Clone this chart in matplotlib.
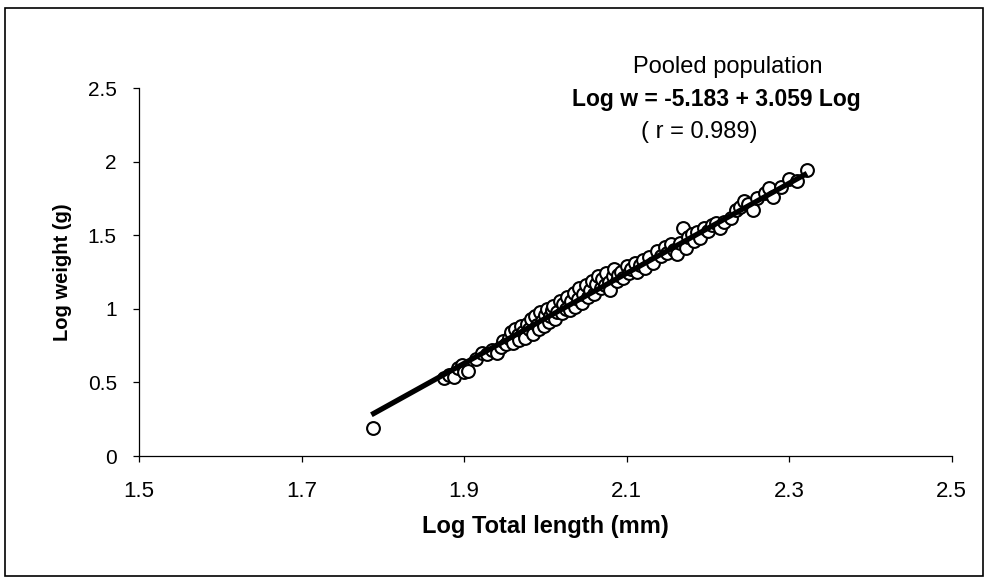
import numpy as np
import matplotlib
matplotlib.use("Agg")
import matplotlib.pyplot as plt
from matplotlib.patches import Rectangle

plt.rcParams["font.family"] = ["Liberation Sans", "DejaVu Sans"]

# Log total length (mm) of each fish.
log_length = [
    1.788,
    1.875, 1.882, 1.888, 1.893, 1.897, 1.900, 1.905,
    1.915, 1.922, 1.928, 1.935, 1.940, 1.945, 1.948, 1.952,
    1.955, 1.958, 1.960, 1.963, 1.966, 1.968, 1.970, 1.972, 1.975, 1.977,
    1.980, 1.982, 1.985, 1.987, 1.990, 1.992, 1.994, 1.996, 1.998, 2.000,
    2.002, 2.004, 2.006,
    2.008, 2.010, 2.012, 2.015, 2.018, 2.020, 2.022, 2.025, 2.027, 2.030,
    2.032, 2.035, 2.037, 2.040, 2.042, 2.045, 2.047, 2.050, 2.052, 2.055,
    2.057, 2.060,
    2.062, 2.065, 2.068, 2.070, 2.073, 2.075, 2.078, 2.080, 2.083, 2.085,
    2.088, 2.090, 2.093, 2.096, 2.100, 2.103, 2.106, 2.110, 2.113, 2.116,
    2.120, 2.123,
    2.128, 2.133, 2.138, 2.142, 2.147, 2.150, 2.155, 2.158, 2.162, 2.166,
    2.170, 2.173, 2.176, 2.180, 2.183, 2.187, 2.190, 2.195, 2.200, 2.205,
    2.210, 2.215, 2.220, 2.228, 2.235, 2.240, 2.245, 2.250, 2.255, 2.260,
    2.270, 2.275, 2.280, 2.290, 2.300, 2.310, 2.322,
]

# Log weight (g) of each fish.
log_weight = [
    0.19,
    0.53, 0.55, 0.54, 0.60, 0.62, 0.57, 0.58,
    0.66, 0.70, 0.69, 0.72, 0.70, 0.74, 0.78, 0.76,
    0.80, 0.84, 0.77, 0.86, 0.82, 0.79, 0.88, 0.84, 0.80, 0.90,
    0.86, 0.93, 0.83, 0.95, 0.89, 0.86, 0.98, 0.92, 0.88, 0.96,
    1.00, 0.91, 0.95,
    0.99, 1.02, 0.93, 0.98, 1.05, 0.97, 1.03, 1.00, 1.08, 0.99,
    1.05, 1.11, 1.01, 1.07, 1.14, 1.04, 1.10, 1.16, 1.08, 1.13,
    1.19, 1.10,
    1.17, 1.22, 1.14, 1.20, 1.16, 1.24, 1.18, 1.13, 1.22, 1.27,
    1.19, 1.23, 1.25, 1.21, 1.29, 1.24, 1.27, 1.31, 1.25, 1.30,
    1.33, 1.28,
    1.35, 1.31, 1.39, 1.36, 1.42, 1.38, 1.44, 1.40, 1.37, 1.45,
    1.55, 1.41, 1.49, 1.51, 1.46, 1.52, 1.48, 1.55, 1.53, 1.57,
    1.58, 1.55, 1.59, 1.62, 1.67, 1.69, 1.73, 1.71, 1.67, 1.75,
    1.79, 1.82, 1.76, 1.83, 1.88, 1.87, 1.94,
]

# Regression: Log w = -5.183 + 3.059 Log L
intercept = -5.183
slope = 3.059
fit_range = [1.786, 2.322]

x_ticks = [1.5, 1.7, 1.9, 2.1, 2.3, 2.5]
y_ticks = [0, 0.5, 1, 1.5, 2, 2.5]
y_tick_labels = ["0", "0.5", "1", "1.5", "2", "2.5"]

fig = plt.figure(figsize=(9.85, 5.81), dpi=100)
ax = fig.add_axes([0.1411, 0.2151, 0.825, 0.6334])

ax.scatter(log_length, log_weight, s=85, facecolor="white", edgecolor="black",
           linewidth=1.5, zorder=2)

fit_x = np.array(fit_range)
ax.plot(fit_x, intercept + slope * fit_x, color="black", linewidth=3.8,
        solid_capstyle="butt", zorder=3)

ax.set_xlim(1.5, 2.5)
ax.set_ylim(0, 2.5)
ax.set_xticks(x_ticks)
ax.set_xticklabels([f"{t:.1f}" for t in x_ticks])
ax.set_yticks(y_ticks)
ax.set_yticklabels(y_tick_labels)

for side in ["top", "right"]:
    ax.spines[side].set_visible(False)
ax.spines["left"].set_linewidth(0.9)
ax.spines["bottom"].set_linewidth(0.9)

ax.tick_params(axis="x", direction="out", length=4, width=0.9, pad=14, labelsize=16)
ax.tick_params(axis="y", direction="out", length=4, width=0.9, pad=12, labelsize=15)

ax.set_xlabel("Log Total length (mm)", fontsize=17, fontweight="bold", labelpad=9)
ax.set_ylabel("Log weight (g)", fontsize=14.5, fontweight="bold", labelpad=11)

# Equation annotation
ax.text(2.225, 2.64, "Pooled population", ha="center", va="center", fontsize=17)
ax.text(2.21, 2.42, "Log w = -5.183 + 3.059 Log", ha="center", va="center",
        fontsize=16.5, fontweight="bold")
ax.text(2.19, 2.20, "( r = 0.989)", ha="center", va="center", fontsize=17)

# Outer frame around the whole chart
fig.patches.append(Rectangle((0.005, 0.008), 0.993, 0.978, transform=fig.transFigure,
                             fill=False, edgecolor="black", linewidth=1.2))

fig.savefig("out.png", dpi=100)
